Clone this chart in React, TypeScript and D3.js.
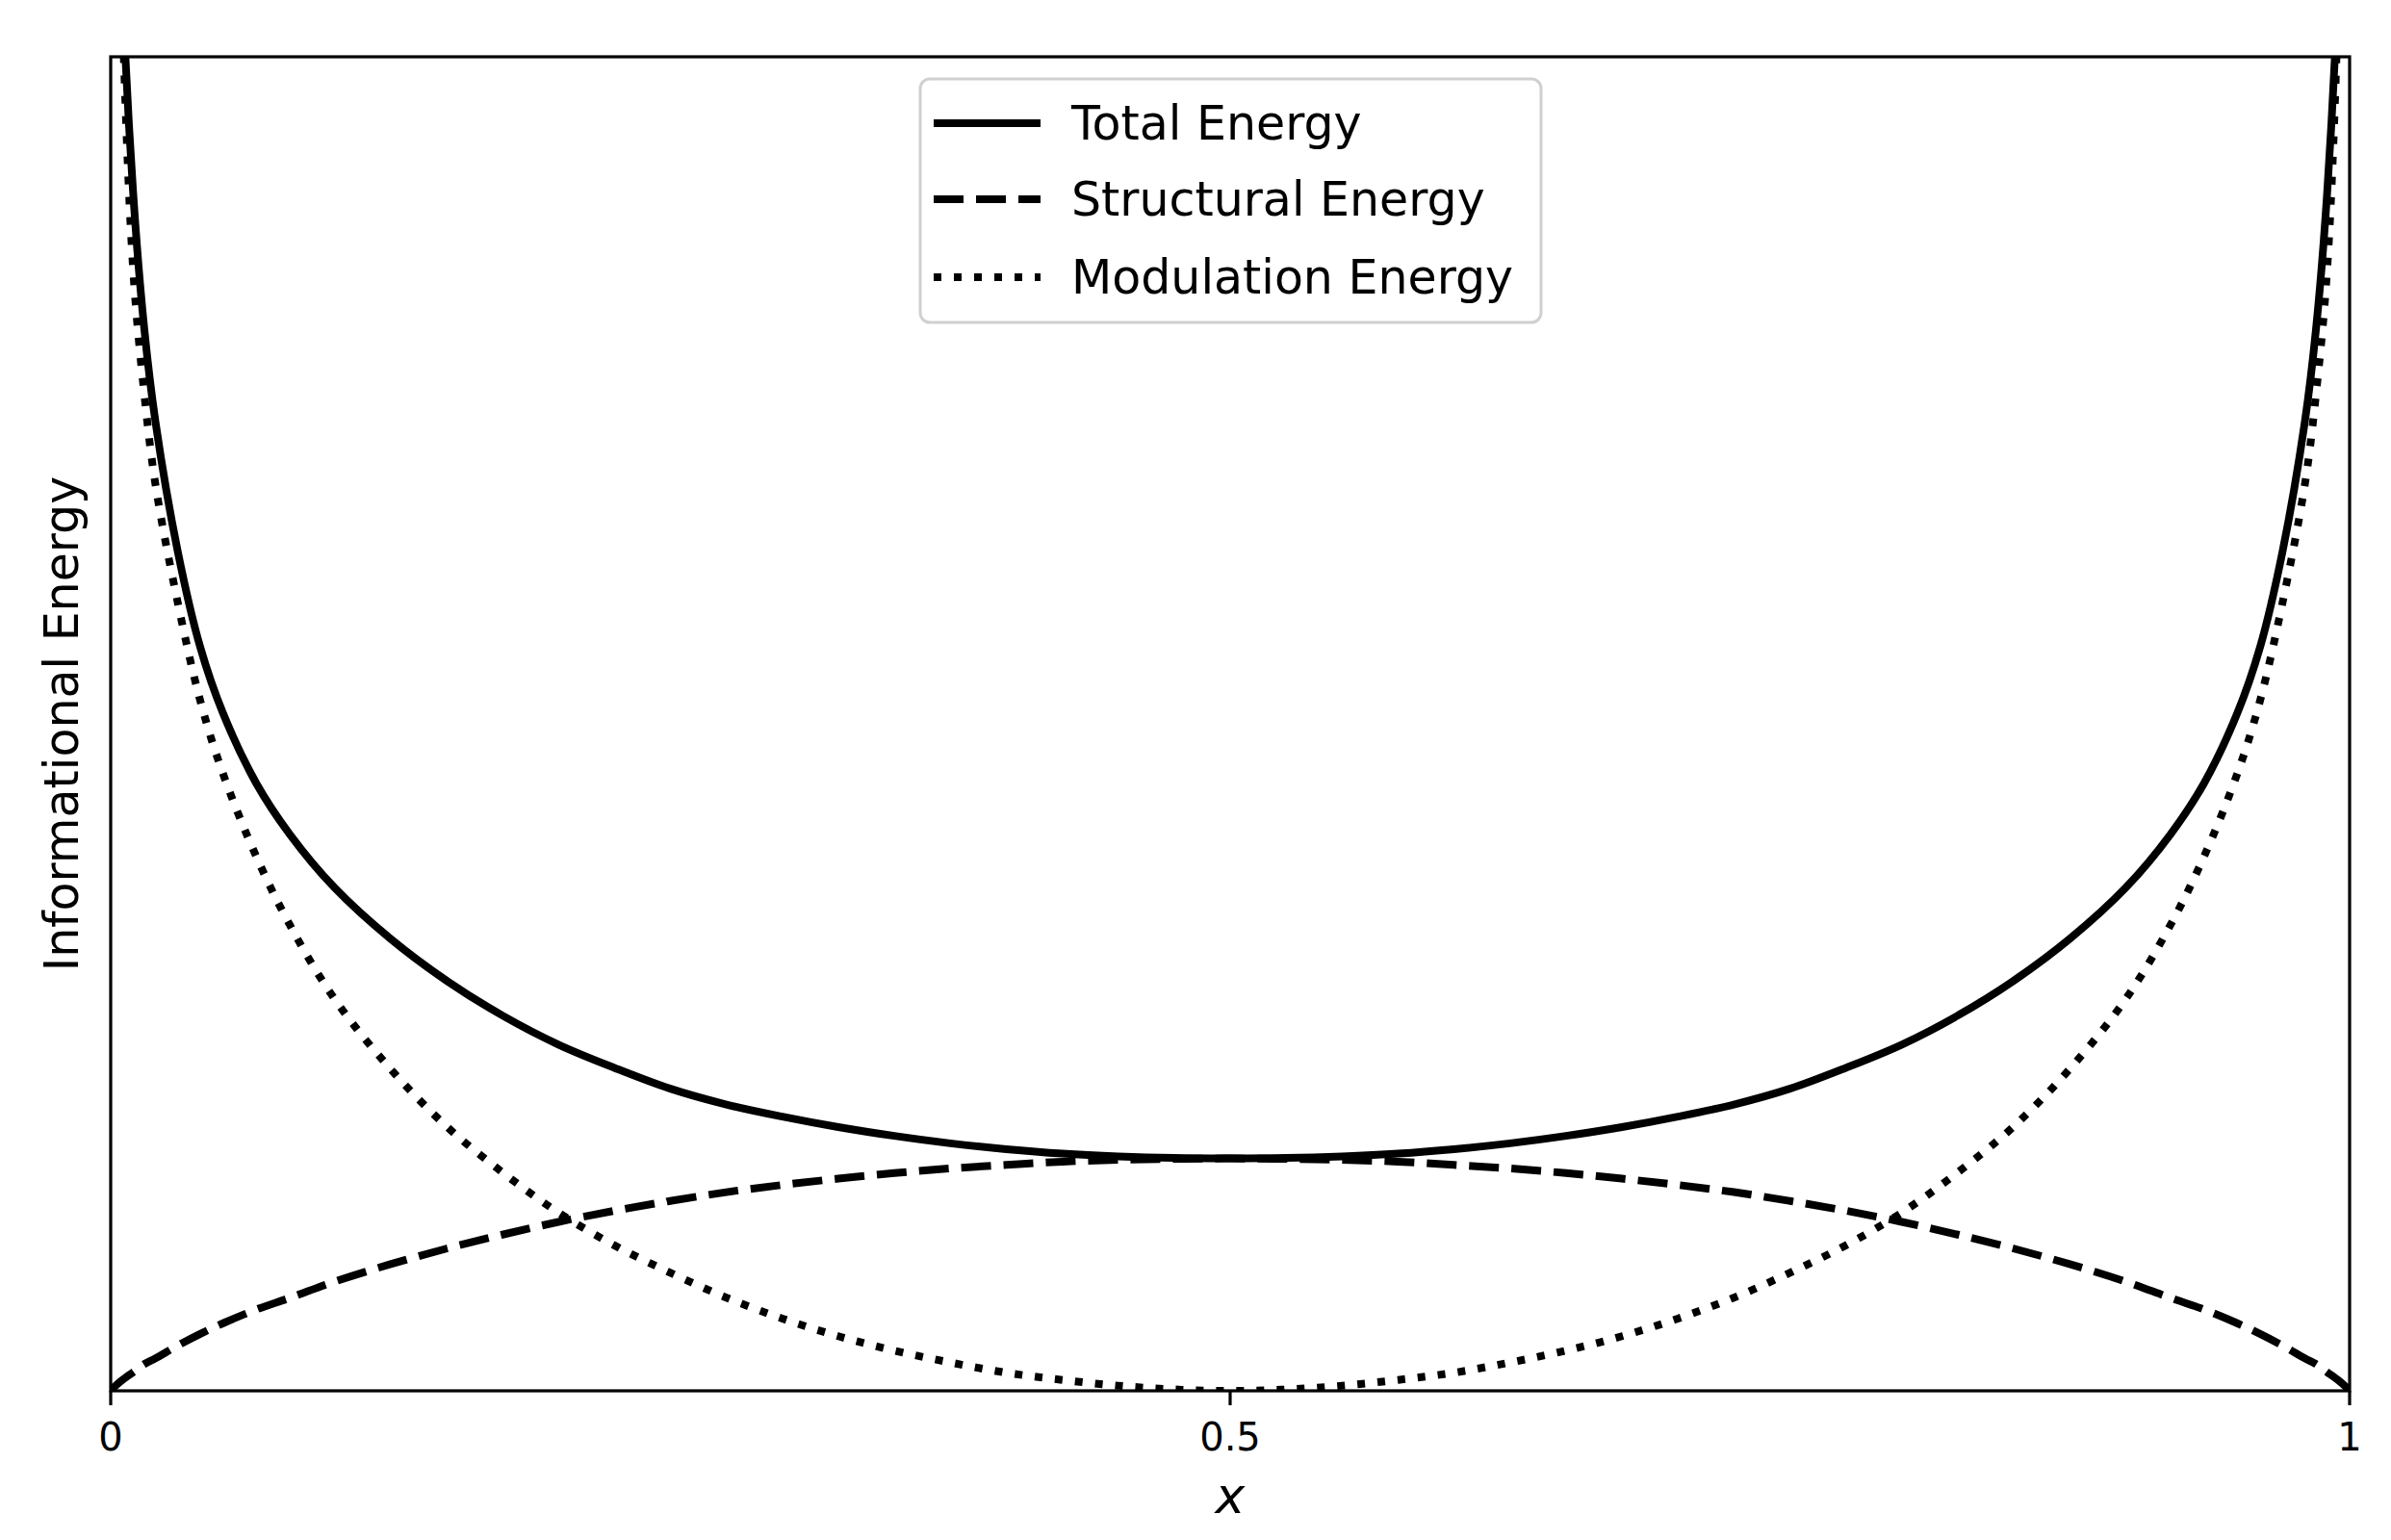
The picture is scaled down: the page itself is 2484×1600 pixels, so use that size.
import * as d3 from "d3";

// sample positions along x (0..1)
const xs = [
  0, 0.002, 0.005, 0.01, 0.015, 0.02, 0.03, 0.04, 0.05, 0.065, 0.08, 0.1, 0.125, 0.15, 0.175, 0.2,
  0.225, 0.25, 0.275, 0.3, 0.325, 0.35, 0.375, 0.4, 0.425, 0.45, 0.475, 0.5, 0.525, 0.55, 0.575,
  0.6, 0.625, 0.65, 0.675, 0.7, 0.725, 0.75, 0.775, 0.8, 0.825, 0.85, 0.875, 0.9, 0.92, 0.935,
  0.95, 0.96, 0.97, 0.98, 0.985, 0.99, 0.995, 0.998, 1,
];

// values (structural peak = 1)
const totalEnergy = [
  null, 7.4, 6.1, 5.16, 4.57, 4.17, 3.61, 3.2, 2.92, 2.615, 2.395, 2.165, 1.945, 1.765, 1.615, 1.49,
  1.39, 1.3, 1.232, 1.18, 1.135, 1.097, 1.065, 1.04, 1.021, 1.009, 1.002, 1.0, 1.002, 1.009, 1.021,
  1.04, 1.065, 1.097, 1.135, 1.18, 1.232, 1.3, 1.39, 1.49, 1.615, 1.765, 1.945, 2.165, 2.395, 2.615,
  2.92, 3.2, 3.61, 4.17, 4.57, 5.16, 6.1, 7.4, null,
];

const structuralEnergy = [
  0, 0.02, 0.045, 0.08, 0.115, 0.14, 0.195, 0.245, 0.29, 0.35, 0.4, 0.47, 0.545, 0.612, 0.672, 0.727,
  0.775, 0.817, 0.855, 0.886, 0.913, 0.937, 0.957, 0.972, 0.986, 0.994, 0.998, 1.0, 0.998, 0.994, 0.986,
  0.972, 0.957, 0.937, 0.913, 0.886, 0.855, 0.817, 0.775, 0.727, 0.672, 0.612, 0.545, 0.47, 0.4, 0.35,
  0.29, 0.245, 0.195, 0.14, 0.115, 0.08, 0.045, 0.02, 0,
];

const modulationEnergy = [
  null, 7.4, 6.0, 4.83, 4.29, 3.9, 3.39, 2.97, 2.66, 2.3, 2.005, 1.686, 1.385, 1.138, 0.94, 0.767,
  0.626, 0.508, 0.401, 0.311, 0.235, 0.173, 0.122, 0.078, 0.047, 0.022, 0.006, 0, 0.006, 0.022, 0.047,
  0.078, 0.122, 0.173, 0.235, 0.311, 0.401, 0.508, 0.626, 0.767, 0.94, 1.138, 1.385, 1.686, 2.005, 2.3,
  2.66, 2.97, 3.39, 3.9, 4.29, 4.83, 6.0, 7.4, null,
];

const tickValues = [0, 0.5, 1];
const tickLabels = ["0", "0.5", "1"];

const seriesNames = ["Total Energy", "Structural Energy", "Modulation Energy"];

const W = 2484;
const H = 1600;
const left = 115;
const right = 2441;
const top = 59;
const bottom = 1445;
const yMax = 5.741;
const font = "DejaVu Sans, sans-serif";
const lw = 8;

const dashes = ["none", "31 13", "8 13"];

export default function App() {
  const x = d3.scaleLinear().domain([0, 1]).range([left, right]);
  const y = d3.scaleLinear().domain([0, yMax]).range([bottom, top]);

  const series = [totalEnergy, structuralEnergy, modulationEnergy];

  const makePath = (vals: (number | null)[]) =>
    d3
      .line<number>()
      .defined((_, i) => vals[i] !== null)
      .x((d) => x(d))
      .y((_, i) => y(vals[i] as number))
      .curve(d3.curveCatmullRom.alpha(0.5))(xs) || "";

  const legendX = 956;
  const legendY = 82;
  const rowY = [128, 207, 288];

  return (
    <div style={{ position: "absolute", left: 0, top: 0 }}>
      <svg width={W} height={H} style={{ display: "block", background: "#fff" }}>
        <defs>
          <clipPath id="plot">
            <rect x={left} y={top} width={right - left} height={bottom - top} />
          </clipPath>
        </defs>

        <g clipPath="url(#plot)">
          {series.map((vals, i) => (
            <path
              key={i}
              d={makePath(vals)}
              fill="none"
              stroke="#000"
              strokeWidth={lw}
              strokeDasharray={dashes[i]}
              strokeLinejoin="round"
            />
          ))}
        </g>

        {/* frame */}
        <rect
          x={left}
          y={top}
          width={right - left}
          height={bottom - top}
          fill="none"
          stroke="#000"
          strokeWidth={3.2}
        />

        {/* x ticks */}
        {tickValues.map((t, i) => (
          <g key={t}>
            <line x1={x(t)} x2={x(t)} y1={bottom} y2={bottom + 15} stroke="#000" strokeWidth={3.2} />
            <text
              x={x(t)}
              y={1507}
              textAnchor="middle"
              fontFamily={font}
              fontSize={40}
              fill="#000"
            >
              {tickLabels[i]}
            </text>
          </g>
        ))}

        <text
          x={(left + right) / 2}
          y={1572}
          textAnchor="middle"
          fontFamily={font}
          fontStyle="italic"
          fontSize={52}
          fill="#000"
        >
          x
        </text>

        <text
          transform={`translate(81, ${(top + bottom) / 2}) rotate(-90)`}
          textAnchor="middle"
          fontFamily={font}
          fontSize={49}
          fill="#000"
        >
          Informational Energy
        </text>

        {/* legend */}
        <rect
          x={legendX}
          y={legendY}
          width={645}
          height={253}
          rx={10}
          fill="#fff"
          fillOpacity={0.8}
          stroke="#d0d0d0"
          strokeWidth={3}
        />
        {seriesNames.map((name, i) => (
          <g key={name}>
            <line
              x1={970}
              x2={1081}
              y1={rowY[i]}
              y2={rowY[i]}
              stroke="#000"
              strokeWidth={lw}
              strokeDasharray={dashes[i]}
            />
            <text x={1113} y={rowY[i] + 17} fontFamily={font} fontSize={49} fill="#000">
              {name}
            </text>
          </g>
        ))}
      </svg>
    </div>
  );
}
